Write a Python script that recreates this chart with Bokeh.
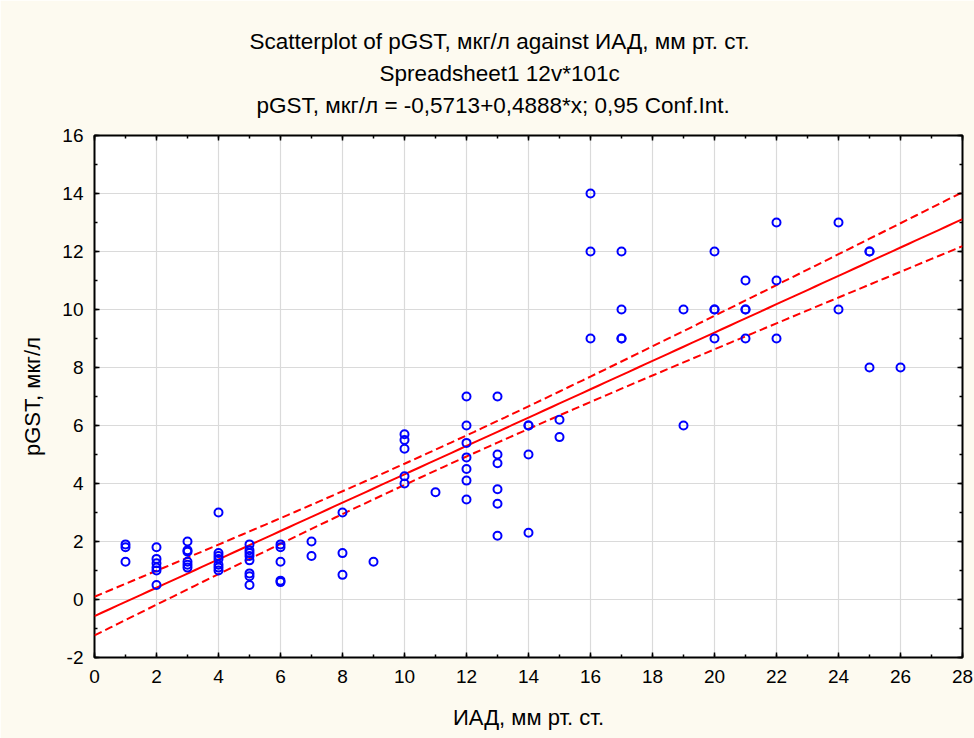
import numpy as np
from bokeh.plotting import figure
from bokeh.models import (Range1d, LinearAxis, SingleIntervalTicker, Title,
                          ColumnDataSource, CustomJSTickFormatter)
from bokeh.embed import file_html
from bokeh.resources import INLINE

# Observations: ИАД (x) and pGST (y)
iad = [1, 1, 1,
       2, 2, 2, 2, 2, 2,
       3, 3, 3, 3, 3, 3,
       4, 4, 4, 4, 4, 4, 4,
       5, 5, 5, 5, 5, 5, 5, 5,
       6, 6, 6, 6, 6,
       7, 7,
       8, 8, 8,
       9,
       10, 10, 10, 10, 10,
       11,
       12, 12, 12, 12, 12, 12, 12,
       13, 13, 13, 13, 13, 13,
       14, 14, 14, 14,
       15, 15,
       16, 16, 16,
       17, 17, 17, 17,
       19, 19,
       20, 20, 20, 20,
       21, 21, 21, 21,
       22, 22, 22,
       24, 24,
       25, 25, 25,
       26]
pgst = [1.9, 1.8, 1.3,
        1.8, 1.4, 1.25, 1.1, 1.0, 0.5,
        2.0, 1.7, 1.65, 1.3, 1.2, 1.1,
        3.0, 1.6, 1.5, 1.4, 1.2, 1.1, 1.0,
        1.9, 1.7, 1.6, 1.5, 1.35, 0.9, 0.8, 0.5,
        1.9, 1.8, 1.3, 0.65, 0.6,
        2.0, 1.5,
        3.0, 1.6, 0.85,
        1.3,
        5.7, 5.5, 5.2, 4.25, 4.0,
        3.7,
        7.0, 6.0, 5.4, 4.9, 4.5, 4.1, 3.45,
        7.0, 5.0, 4.7, 3.8, 3.3, 2.2,
        6.0, 6.0, 5.0, 2.3,
        6.2, 5.6,
        14.0, 12.0, 9.0,
        12.0, 10.0, 9.0, 9.0,
        10.0, 6.0,
        12.0, 10.0, 10.0, 9.0,
        11.0, 10.0, 10.0, 9.0,
        13.0, 11.0, 9.0,
        13.0, 10.0,
        12.0, 12.0, 8.0,
        8.0]

# Fitted regression (as reported in the heading)
INTERCEPT = -0.5713
SLOPE = 0.4888
T_95 = 1.987  # Student t, 0.975 quantile, ~90 df

title_lines = ["Scatterplot of pGST, мкг/л against ИАД, мм рт. ст.",
               "Spreadsheet1 12v*101c",
               "pGST, мкг/л = -0,5713+0,4888*x; 0,95 Conf.Int."]
# left offsets of the heading lines from the frame's left edge, px
title_offsets = [155, 285, 162]
x_title = "ИАД, мм рт. ст."
y_title = "pGST, мкг/л"

FONT = "Liberation Sans"
BG = "#FDFAF0"

# regression line and 0.95 confidence band for the mean
xa = np.asarray(iad, dtype=float)
ya = np.asarray(pgst, dtype=float)
n = len(xa)
resid = ya - (INTERCEPT + SLOPE * xa)
s = np.sqrt(np.sum(resid ** 2) / (n - 2))
xbar = xa.mean()
sxx = np.sum((xa - xbar) ** 2)
xs = np.linspace(0, 28, 113)
fit = INTERCEPT + SLOPE * xs
half = T_95 * s * np.sqrt(1.0 / n + (xs - xbar) ** 2 / sxx)
band = ColumnDataSource(dict(x=xs, fit=fit, lo=fit - half, hi=fit + half))
pts = ColumnDataSource(dict(x=iad, y=pgst))

p = figure(width=974, height=738, output_backend="svg", toolbar_location=None,
           x_range=Range1d(0, 28), y_range=Range1d(-2, 16),
           min_border_left=94, min_border_right=12,
           min_border_top=135, min_border_bottom=81,
           background_fill_color="white", border_fill_color=BG,
           x_axis_location=None, y_axis_location=None)
p.outline_line_color = "black"
p.outline_line_width = 2


def style_axis(ax, labels=True):
    ax.ticker = SingleIntervalTicker(interval=2, num_minor_ticks=2)
    ax.axis_line_color = None
    ax.major_tick_in = 5
    ax.major_tick_out = 0
    ax.minor_tick_in = 3
    ax.minor_tick_out = 0
    ax.major_tick_line_color = "black"
    ax.major_tick_line_width = 1.5
    ax.minor_tick_line_color = "black"
    ax.minor_tick_line_width = 1.5
    ax.major_label_text_font = FONT
    ax.major_label_text_font_size = "19px"
    ax.major_label_text_color = "black"
    ax.axis_label_text_font = FONT
    ax.axis_label_text_font_size = "22px"
    ax.axis_label_text_font_style = "normal"
    ax.axis_label_text_color = "black"
    if labels:
        ax.major_label_overrides = {-2: "-2"}
    else:
        ax.formatter = CustomJSTickFormatter(code="return ''")
        ax.major_label_standoff = 0


xb = LinearAxis(axis_label=x_title)
style_axis(xb)
xb.major_label_standoff = 12
xb.axis_label_standoff = 19
p.add_layout(xb, "below")

yl = LinearAxis(axis_label=y_title)
style_axis(yl)
yl.major_label_standoff = 11
yl.axis_label_standoff = 14
p.add_layout(yl, "left")

xt = LinearAxis()
style_axis(xt, labels=False)
p.add_layout(xt, "above")

# invisible spacer between the frame and the heading block
gap = LinearAxis(ticker=SingleIntervalTicker(interval=2, num_minor_ticks=0),
                 formatter=CustomJSTickFormatter(code="return ''"),
                 axis_line_color=None, major_tick_line_color=None,
                 minor_tick_line_color=None, major_tick_in=0, major_tick_out=15,
                 minor_tick_in=0, minor_tick_out=0, major_label_standoff=0)
p.add_layout(gap, "above")

yr = LinearAxis()
style_axis(yr, labels=False)
p.add_layout(yr, "right")

p.xgrid.ticker = SingleIntervalTicker(interval=2)
p.ygrid.ticker = SingleIntervalTicker(interval=2)
p.xgrid.grid_line_color = "#DADADA"
p.ygrid.grid_line_color = "#DADADA"
p.xgrid.grid_line_width = 1.2
p.ygrid.grid_line_width = 1.2

# confidence band and fitted line
p.line("x", "hi", source=band, line_color="#FF0000", line_width=2, line_dash="8 4")
p.line("x", "lo", source=band, line_color="#FF0000", line_width=2, line_dash="8 4")
p.line("x", "fit", source=band, line_color="#FF0000", line_width=2)

# observations
p.scatter("x", "y", source=pts, marker="circle", size=8,
          fill_color=None, line_color="#0000FF", line_width=2)

# three heading lines stacked above the frame (innermost first)
for txt, off in reversed(list(zip(title_lines, title_offsets))):
    p.add_layout(Title(text=txt, align="left", offset=off, text_font=FONT,
                       text_font_size="22.5px", text_font_style="normal",
                       text_color="black", standoff=5), "above")

open("out.html", "w").write(file_html(p, INLINE))
